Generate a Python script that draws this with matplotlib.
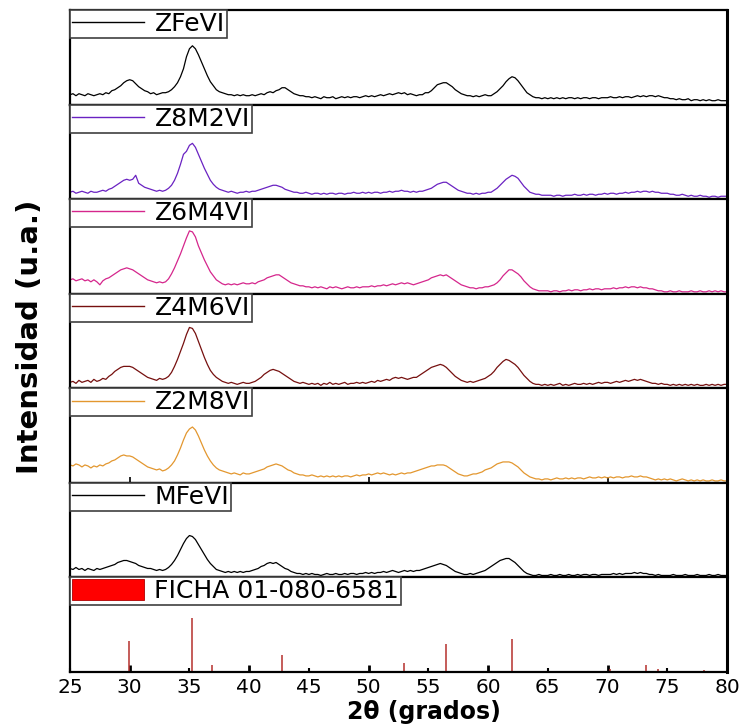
import numpy as np
import matplotlib
matplotlib.use("Agg")
import matplotlib.pyplot as plt
from matplotlib.lines import Line2D
from matplotlib.patches import Patch
from matplotlib.ticker import MultipleLocator, FormatStrFormatter

# 2theta grid (0.25 deg steps), intensities (arb. units)
two_theta = np.arange(25, 80.001, 0.25)

zfevi = [
    10, 11, 9, 11, 10, 9, 11, 10, 9, 10, 11, 10, 12, 11, 14, 15, 17, 19, 22, 24,
    25, 24, 21, 18, 16, 14, 13, 11, 12, 10, 11, 12, 12, 13, 15, 18, 22, 28, 36, 48,
    56, 59, 56, 50, 43, 36, 29, 23, 19, 15, 13, 12, 11, 10, 10, 9, 10, 9, 10, 9,
    9, 10, 9, 10, 11, 10, 12, 13, 12, 14, 15, 17, 17, 15, 13, 11, 10, 9, 9, 8,
    8, 7, 8, 7, 6, 8, 7, 7, 8, 6, 7, 8, 7, 8, 7, 8, 8, 7, 8, 9,
    8, 9, 8, 9, 10, 9, 10, 11, 10, 11, 12, 11, 12, 10, 11, 10, 9, 10, 10, 12,
    12, 14, 17, 20, 21, 22, 22, 20, 18, 15, 13, 11, 10, 9, 9, 8, 9, 8, 9, 10,
    9, 9, 11, 13, 16, 19, 23, 26, 28, 27, 24, 20, 16, 12, 10, 8, 7, 7, 6, 7,
    6, 7, 6, 7, 6, 7, 6, 7, 7, 6, 7, 6, 7, 7, 6, 7, 7, 6, 7, 7,
    7, 8, 7, 7, 8, 7, 8, 8, 7, 8, 9, 8, 9, 8, 9, 9, 8, 9, 8, 7,
    7, 6, 6, 5, 6, 5, 5, 6, 4, 5, 5, 4, 5, 4, 5, 4, 4, 5, 4, 4,
    4]

z8m2vi = [
    7, 8, 6, 7, 8, 7, 6, 8, 7, 7, 8, 9, 8, 10, 11, 13, 15, 17, 19, 20,
    19, 20, 24, 16, 14, 12, 11, 10, 9, 8, 9, 8, 9, 11, 14, 19, 26, 35, 45, 48,
    54, 56, 52, 45, 38, 31, 25, 19, 15, 12, 10, 9, 8, 7, 8, 7, 6, 7, 7, 8,
    7, 8, 8, 9, 10, 11, 12, 13, 14, 14, 13, 12, 10, 9, 8, 7, 7, 6, 6, 7,
    6, 5, 6, 6, 5, 6, 5, 6, 6, 5, 6, 6, 5, 6, 6, 7, 6, 6, 7, 6,
    7, 6, 7, 7, 6, 7, 7, 8, 7, 8, 8, 9, 8, 8, 7, 8, 7, 8, 8, 9,
    10, 11, 13, 15, 16, 17, 17, 15, 13, 11, 9, 8, 7, 6, 6, 5, 6, 5, 6, 6,
    7, 7, 9, 11, 14, 17, 20, 22, 24, 23, 21, 17, 13, 10, 7, 6, 5, 5, 4, 4,
    4, 4, 3, 4, 4, 3, 4, 4, 4, 5, 4, 4, 5, 4, 5, 5, 4, 5, 5, 6,
    5, 6, 6, 5, 6, 6, 7, 6, 7, 7, 8, 7, 8, 8, 7, 8, 7, 7, 6, 6,
    6, 5, 5, 4, 4, 5, 4, 3, 4, 3, 3, 4, 3, 3, 2, 3, 3, 2, 3, 3,
    3]

z6m4vi = [
    14, 15, 13, 14, 15, 13, 14, 12, 14, 12, 9, 13, 15, 16, 18, 20, 22, 24, 25, 26,
    25, 24, 22, 20, 18, 16, 14, 13, 12, 11, 12, 11, 12, 15, 20, 26, 33, 40, 48, 56,
    63, 62, 57, 48, 41, 34, 28, 22, 18, 14, 12, 10, 9, 10, 9, 10, 9, 10, 11, 10,
    10, 11, 10, 12, 13, 14, 16, 17, 18, 19, 19, 17, 15, 13, 11, 10, 9, 8, 8, 7,
    7, 6, 7, 6, 7, 6, 5, 7, 6, 7, 6, 5, 6, 7, 6, 6, 7, 6, 7, 7,
    7, 8, 7, 8, 8, 9, 8, 9, 10, 9, 10, 11, 10, 11, 10, 9, 10, 11, 12, 13,
    14, 16, 17, 18, 19, 18, 19, 17, 15, 13, 11, 9, 8, 7, 6, 6, 5, 6, 6, 7,
    7, 8, 9, 11, 14, 18, 21, 24, 24, 22, 20, 17, 13, 10, 7, 5, 4, 3, 3, 3,
    3, 2, 3, 3, 2, 3, 3, 4, 3, 4, 4, 3, 4, 4, 5, 4, 5, 5, 4, 5,
    5, 5, 6, 5, 6, 6, 7, 6, 7, 7, 6, 7, 6, 6, 5, 5, 4, 3, 3, 2,
    2, 3, 2, 2, 3, 2, 2, 2, 3, 2, 2, 3, 2, 2, 3, 2, 3, 2, 3, 2,
    2]

z4m6vi = [
    6, 7, 5, 8, 6, 7, 8, 6, 9, 7, 8, 10, 9, 12, 14, 17, 19, 21, 22, 22,
    22, 21, 19, 17, 15, 13, 11, 10, 9, 8, 10, 9, 10, 12, 16, 22, 29, 37, 45, 54,
    61, 60, 55, 47, 39, 31, 24, 18, 14, 11, 9, 7, 6, 5, 6, 5, 4, 5, 6, 5,
    5, 6, 7, 9, 11, 14, 16, 18, 19, 18, 17, 15, 13, 11, 9, 7, 6, 5, 6, 5,
    4, 5, 4, 5, 3, 5, 4, 6, 4, 5, 4, 5, 6, 4, 5, 5, 6, 5, 6, 5,
    6, 7, 6, 8, 7, 8, 9, 8, 10, 11, 10, 11, 10, 9, 10, 11, 11, 13, 15, 17,
    19, 21, 22, 23, 24, 23, 21, 18, 15, 12, 10, 8, 7, 6, 7, 6, 7, 8, 9, 10,
    12, 14, 17, 21, 24, 27, 29, 28, 26, 24, 21, 17, 13, 10, 7, 5, 4, 4, 3, 4,
    3, 4, 3, 4, 5, 3, 4, 3, 4, 5, 4, 4, 5, 4, 5, 4, 5, 6, 5, 6,
    6, 5, 6, 7, 6, 7, 8, 7, 8, 9, 8, 9, 8, 7, 6, 5, 5, 4, 5, 4,
    4, 3, 4, 3, 4, 3, 4, 3, 4, 3, 4, 3, 3, 4, 3, 4, 3, 4, 3, 4,
    4]

z2m8vi = [
    18, 17, 19, 18, 16, 18, 17, 15, 17, 16, 18, 17, 19, 20, 22, 23, 25, 27, 28, 27,
    27, 26, 24, 22, 20, 18, 16, 15, 14, 13, 14, 12, 13, 15, 18, 22, 28, 35, 43, 50,
    54, 56, 53, 47, 40, 33, 27, 22, 18, 15, 13, 12, 11, 10, 9, 10, 9, 8, 10, 9,
    9, 10, 11, 12, 13, 14, 16, 17, 18, 19, 18, 17, 15, 13, 12, 10, 9, 8, 8, 7,
    7, 8, 7, 6, 7, 6, 7, 6, 7, 6, 7, 6, 7, 7, 6, 7, 8, 7, 8, 8,
    9, 8, 9, 10, 9, 10, 9, 8, 9, 8, 9, 10, 9, 10, 10, 11, 12, 13, 14, 15,
    16, 17, 17, 18, 18, 18, 17, 15, 13, 11, 9, 8, 7, 7, 8, 9, 9, 10, 11, 13,
    14, 15, 17, 19, 20, 21, 21, 21, 20, 18, 16, 13, 10, 8, 6, 5, 4, 4, 3, 4,
    4, 3, 4, 5, 4, 4, 5, 4, 5, 4, 5, 5, 4, 5, 6, 5, 5, 6, 5, 6,
    5, 6, 5, 6, 6, 5, 6, 6, 7, 6, 6, 7, 6, 6, 5, 4, 3, 4, 3, 4,
    3, 4, 3, 2, 3, 4, 3, 2, 3, 2, 3, 2, 3, 2, 2, 3, 2, 2, 3, 2,
    2]

mfevi = [
    9, 8, 10, 8, 9, 7, 9, 8, 7, 9, 8, 9, 10, 11, 12, 13, 15, 16, 17, 17,
    16, 15, 14, 12, 11, 10, 9, 9, 8, 7, 8, 7, 8, 10, 13, 17, 22, 28, 34, 39,
    42, 41, 38, 33, 28, 23, 18, 14, 11, 8, 7, 6, 5, 6, 5, 6, 5, 6, 5, 6,
    6, 7, 8, 9, 11, 12, 14, 15, 14, 15, 13, 11, 9, 8, 6, 5, 4, 4, 3, 4,
    3, 4, 3, 3, 2, 3, 4, 3, 3, 4, 3, 3, 4, 3, 4, 4, 3, 4, 4, 5,
    4, 5, 4, 5, 5, 6, 5, 6, 7, 6, 5, 6, 7, 6, 7, 6, 7, 7, 8, 9,
    10, 11, 12, 13, 14, 13, 12, 10, 8, 6, 5, 4, 3, 3, 4, 3, 4, 5, 6, 7,
    9, 11, 13, 15, 17, 18, 19, 19, 17, 15, 12, 9, 6, 4, 3, 2, 2, 3, 2, 2,
    2, 3, 2, 2, 3, 2, 2, 3, 2, 2, 3, 2, 3, 3, 2, 3, 3, 2, 3, 3,
    3, 3, 4, 3, 4, 3, 4, 4, 4, 5, 4, 5, 4, 4, 3, 3, 2, 3, 2, 2,
    2, 2, 3, 2, 2, 2, 3, 2, 2, 2, 3, 2, 2, 2, 3, 2, 2, 3, 2, 2,
    2]

# reference card 01-080-6581 (stick pattern)
ficha_pos = [29.95, 35.2, 36.85, 42.77, 53.0, 56.48, 61.98, 70.2, 73.25, 74.2, 78.1]
ficha_int = [31, 54, 7.5, 17, 9.4, 28.5, 33.5, 3.5, 6.7, 3.5, 2.5]

labels = ["ZFeVI", "Z8M2VI", "Z6M4VI", "Z4M6VI", "Z2M8VI", "MFeVI"]
series = [zfevi, z8m2vi, z6m4vi, z4m6vi, z2m8vi, mfevi]
colors = ["#000000", "#6a22c2", "#d5268c", "#76100f", "#e3972f", "#000000"]
ficha_label = "FICHA 01-080-6581"

fig = plt.figure(figsize=(7.43, 7.24), dpi=100)
axes = fig.subplots(7, 1, gridspec_kw=dict(hspace=0))
fig.subplots_adjust(left=0.0942, right=0.9785, top=0.986, bottom=0.0718)

leg_kw = dict(loc="upper left", borderaxespad=0, fancybox=False, framealpha=1,
              edgecolor="#404040", fontsize=18, borderpad=0.08,
              handlelength=2.9, handletextpad=0.4)

for ax, y, c, lab in zip(axes[:6], series, colors, labels):
    ax.plot(two_theta, y, color=c, lw=0.9)
    leg = ax.legend([Line2D([], [], color=c, lw=1)], [lab], **leg_kw)
    leg.get_frame().set_linewidth(1.2)

ax = axes[6]
ax.vlines(ficha_pos, 0, ficha_int, color="#b5302c", lw=1.1)
leg = ax.legend([Patch(facecolor="#ff0000", edgecolor="#b00000", lw=0.6)],
                [ficha_label], handleheight=0.9, **leg_kw)
leg.get_frame().set_linewidth(1.2)

for ax in axes:
    ax.set_xlim(25, 80)
    ax.set_ylim(0, 94.7)
    ax.tick_params(axis="y", left=False, labelleft=False)
    ax.tick_params(axis="x", which="both", bottom=False, labelbottom=False)
    for s in ax.spines.values():
        s.set_linewidth(1.6)
    ax.spines["right"].set_linewidth(2.2)

# stray ticks visible on the Z2M8VI panel
axes[4].set_xticks([30, 50, 70])
axes[4].tick_params(axis="x", which="major", bottom=True, direction="in",
                    length=4, width=1.2, labelbottom=False)

bot = axes[6]
bot.xaxis.set_major_locator(MultipleLocator(10))
bot.xaxis.set_minor_locator(MultipleLocator(5))
bot.xaxis.set_major_formatter(FormatStrFormatter("%d"))
bot.xaxis.set_minor_formatter(FormatStrFormatter("%d"))
bot.tick_params(axis="x", which="both", bottom=True, labelbottom=True,
                direction="in", labelsize=14.5, pad=4)
bot.tick_params(axis="x", which="major", length=5, width=2)
bot.tick_params(axis="x", which="minor", length=3, width=1.5)

fig.text(0.57, 0.017, "2\u03b8 (grados)", ha="center", va="center",
         fontsize=17, fontweight="bold")
fig.text(0.041, 0.535, "Intensidad (u.a.)", rotation=90, ha="center",
         va="center", fontsize=21, fontweight="bold")

plt.savefig("out.png", dpi=100)
